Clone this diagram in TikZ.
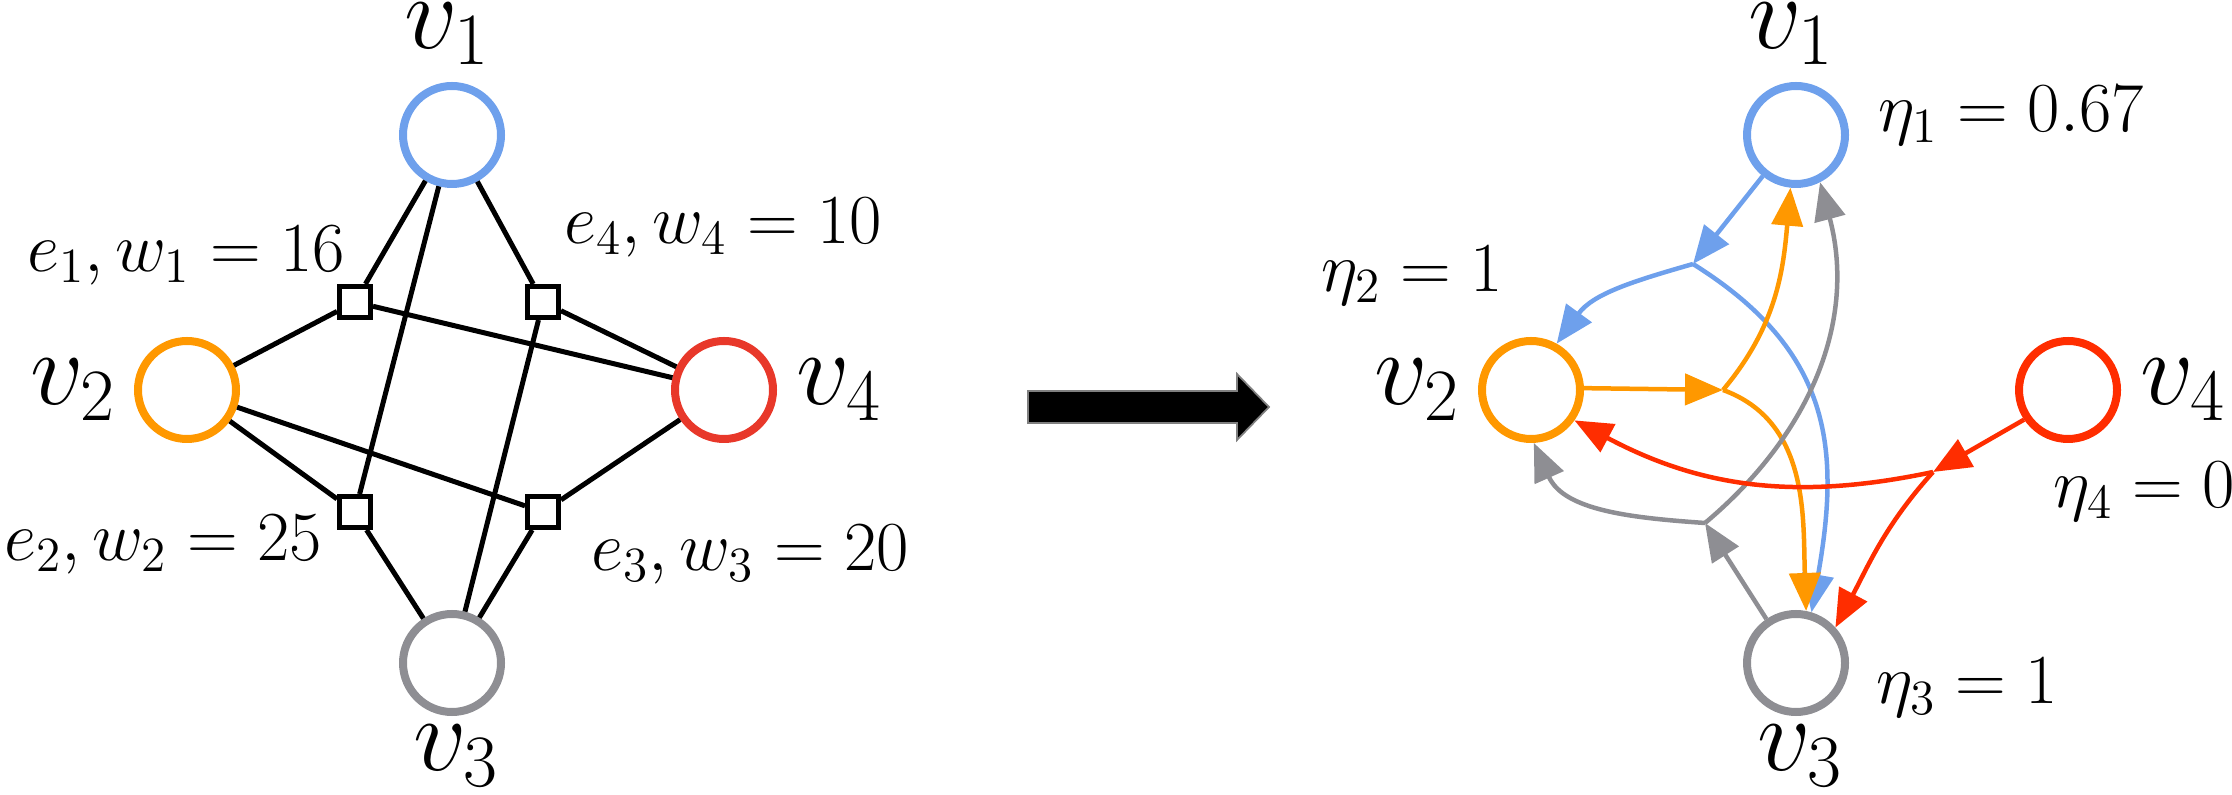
\documentclass[tikz,border=0pt]{standalone}
\usepackage{fix-cm}
\usetikzlibrary{arrows.meta}

\definecolor{vblue}{RGB}{110,160,236}
\definecolor{vorange}{RGB}{255,152,0}
\definecolor{vred}{RGB}{232,56,42}
\definecolor{vredr}{RGB}{255,45,0}
\definecolor{vgray}{RGB}{142,142,147}

\begin{document}
\begin{tikzpicture}[
  vert/.style={circle, draw, line width=0.08cm, minimum size=0.98cm, inner sep=0pt},
  hedge/.style={rectangle, draw, line width=0.05cm, minimum size=0.31cm, inner sep=0pt, fill=white},
  link/.style={line width=0.05cm},
  flow/.style={line width=0.045cm, -{Triangle[length=0.38cm,width=0.31cm]}},
  big/.style={font=\fontsize{30}{36}\selectfont, inner sep=0pt},
  small/.style={font=\fontsize{20}{24}\selectfont, inner sep=0pt}
]
  \useasboundingbox (0,0) rectangle (22.32,-7.95);

  % Hypergraph
  \node[vert, draw=vblue] (v1) at (4.52,-1.35) {};
  \node[vert, draw=vorange] (v2) at (1.87,-3.90) {};
  \node[vert, draw=vgray] (v3) at (4.52,-6.63) {};
  \node[vert, draw=vred] (v4) at (7.24,-3.90) {};

  \node[hedge] (e1) at (3.55,-3.02) {};
  \node[hedge] (e2) at (3.55,-5.12) {};
  \node[hedge] (e3) at (5.43,-5.12) {};
  \node[hedge] (e4) at (5.43,-3.02) {};

  \draw[link] (v1) -- (e1);
  \draw[link] (v2) -- (e1);
  \draw[link] (v4) -- (e1);
  \draw[link] (v1) -- (e2);
  \draw[link] (v2) -- (e2);
  \draw[link] (v3) -- (e2);
  \draw[link] (v2) -- (e3);
  \draw[link] (v3) -- (e3);
  \draw[link] (v4) -- (e3);
  \draw[link] (v1) -- (e4);
  \draw[link] (v3) -- (e4);
  \draw[link] (v4) -- (e4);

  \node[big] (v1lab) at (4.47,-0.34) {$v_1$};
  \node[big] (v2lab) at (0.73,-3.90) {$v_2$};
  \node[big] (v3lab) at (4.56,-7.56) {$v_3$};
  \node[big] (v4lab) at (8.39,-3.90) {$v_4$};
  \node[small] (e1lab) at (1.86,-2.56) {$e_1, w_1 = 16$};
  \node[small] (e2lab) at (1.63,-5.45) {$e_2, w_2 = 25$};
  \node[small] (e3lab) at (7.50,-5.55) {$e_3, w_3 = 20$};
  \node[small] (e4lab) at (7.23,-2.28) {$e_4, w_4 = 10$};

  % Big arrow
  \draw[fill=black, draw=gray, line width=0.5pt] (10.28,-3.91) -- (12.37,-3.91)
    -- (12.37,-3.74) -- (12.69,-4.07) -- (12.37,-4.40) -- (12.37,-4.23)
    -- (10.28,-4.23) -- cycle;

  % Directed hypergraph
  \node[vert, draw=vblue] (r1) at (17.96,-1.35) {};
  \node[vert, draw=vorange] (r2) at (15.31,-3.90) {};
  \node[vert, draw=vgray] (r3) at (17.96,-6.63) {};
  \node[vert, draw=vredr] (r4) at (20.68,-3.90) {};

  \coordinate (jb) at (16.93,-2.64);
  \coordinate (jo) at (17.23,-3.90);
  \coordinate (jg) at (17.05,-5.23);
  \coordinate (jr) at (19.33,-4.72);

  \draw[flow, vblue] (r1.231) -- (jb);
  \draw[flow, vblue] (jb) to[out=196,in=54] (r2.61);
  \draw[flow, vblue] (jb) to[out=-32,in=80,looseness=1.15] (r3.73);
  \draw[flow, vorange] (r2.2) -- (jo);
  \draw[flow, vorange] (jo) to[out=50,in=-95] (r1.264);
  \draw[flow, vorange] (jo) to[out=-20,in=92] (r3.79);
  \draw[flow, vgray] (r3.124) -- (jg);
  \draw[flow, vgray] (jg) to[out=176,in=-66] (r2.273);
  \draw[flow, vgray] (jg) to[out=40,in=-75] (r1.297);
  \draw[flow, vredr] (r4.214) -- (jr);
  \draw[flow, vredr] (jr) to[out=192,in=-28] (r2.325);
  \draw[flow, vredr] (jr) to[out=228,in=62] (r3.42);

  \node[big] (r1lab) at (17.91,-0.34) {$v_1$};
  \node[big] (r2lab) at (14.17,-3.90) {$v_2$};
  \node[big] (r3lab) at (18.00,-7.56) {$v_3$};
  \node[big] (r4lab) at (21.83,-3.90) {$v_4$};
  \node[small] (eta1) at (20.11,-1.16) {$\eta_1 = 0.67$};
  \node[small] (eta2) at (14.12,-2.76) {$\eta_2 = 1$};
  \node[small] (eta3) at (19.67,-6.88) {$\eta_3 = 1$};
  \node[small] (eta4) at (21.44,-4.92) {$\eta_4 = 0$};

\end{tikzpicture}
\end{document}
